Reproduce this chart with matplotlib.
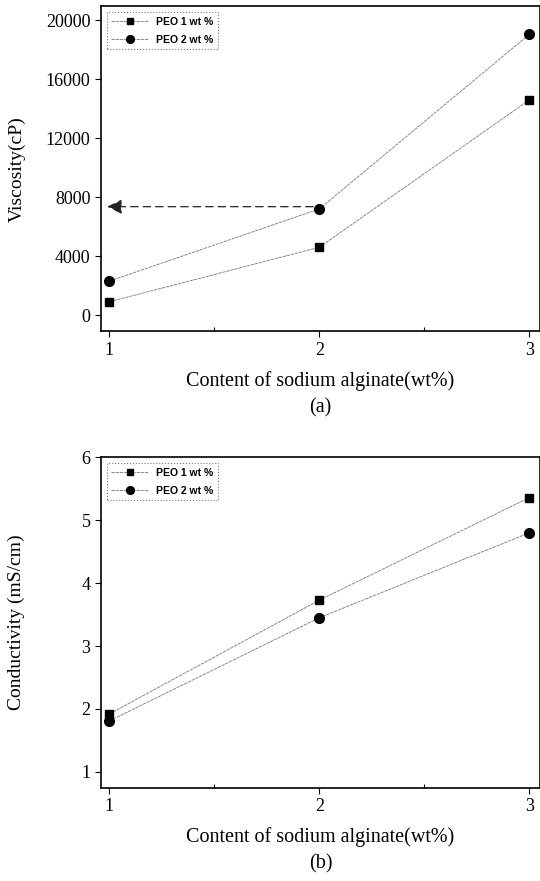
import matplotlib
matplotlib.use('Agg')
import matplotlib.pyplot as plt

# data
sa_content = [1, 2, 3]
visc_peo1 = [900, 4600, 14600]
visc_peo2 = [2300, 7200, 19050]
cond_peo1 = [1.92, 3.73, 5.36]
cond_peo2 = [1.81, 3.45, 4.80]
visc_ticks = [0, 4000, 8000, 12000, 16000, 20000]
cond_ticks = [1, 2, 3, 4, 5, 6]
series_names = ['PEO 1 wt %', 'PEO 2 wt %']
arrow_level = 7350

serif = 'Liberation Serif'
fig = plt.figure(figsize=(5.4, 8.81), dpi=100)
ax1 = fig.add_axes([0.187, 0.624, 0.813, 0.369])
ax2 = fig.add_axes([0.187, 0.106, 0.813, 0.375])

def style(ax, yticks, ylabel, tag):
    ax.set_xlim(0.96, 3.05)
    ax.set_xticks(sa_content)
    ax.set_xticks([1.5, 2.5], minor=True)
    ax.set_yticks(yticks)
    ax.tick_params(axis='both', which='major', direction='out', length=4, width=0.8)
    ax.tick_params(axis='x', which='minor', direction='in', length=3, width=0.8)
    for lab in ax.get_xticklabels() + ax.get_yticklabels():
        lab.set_fontfamily(serif)
        lab.set_fontsize(13)
    for s in ax.spines.values():
        s.set_linewidth(1.2)
    ax.set_ylabel(ylabel, family=serif, fontsize=14)
    ax.yaxis.set_label_coords(-0.172, 0.5)
    ax.set_xlabel('Content of sodium alginate(wt%)\n' + tag, family=serif,
                  fontsize=14.5, labelpad=9, linespacing=1.5)
    leg = ax.legend(loc='upper left', prop={'family': 'Liberation Sans', 'weight': 'bold', 'size': 7.5},
                    frameon=True, fancybox=False, handlelength=3.5, borderaxespad=0.6,
                    labelspacing=0.8, markerscale=0.8)
    leg.get_frame().set_edgecolor('#555555')
    leg.get_frame().set_linestyle(':')
    leg.get_frame().set_linewidth(0.8)

ax1.plot(sa_content, visc_peo1, color='#777777', lw=0.6, ls=(0, (4, 1)), marker='s', ms=6,
         mfc='black', mec='black', label=series_names[0])
ax1.plot(sa_content, visc_peo2, color='#777777', lw=0.6, ls=(0, (4, 1)), marker='o', ms=7,
         mfc='black', mec='black', label=series_names[1])
ax1.set_ylim(-1100, 20950)
ax1.annotate('', xy=(0.99, arrow_level), xytext=(1.97, arrow_level),
             arrowprops=dict(arrowstyle='-|>', ls=(0, (6, 4)), color='#222222', lw=0.9,
                             mutation_scale=22, shrinkA=0, shrinkB=0))
style(ax1, visc_ticks, 'Viscosity(cP)', '(a)')

ax2.plot(sa_content, cond_peo1, color='#777777', lw=0.6, ls=(0, (4, 1)), marker='s', ms=6,
         mfc='black', mec='black', label=series_names[0])
ax2.plot(sa_content, cond_peo2, color='#777777', lw=0.6, ls=(0, (4, 1)), marker='o', ms=7,
         mfc='black', mec='black', label=series_names[1])
ax2.set_ylim(0.75, 6.0)
style(ax2, cond_ticks, 'Conductivity (mS/cm)', '(b)')

fig.savefig('out.png', dpi=100)
